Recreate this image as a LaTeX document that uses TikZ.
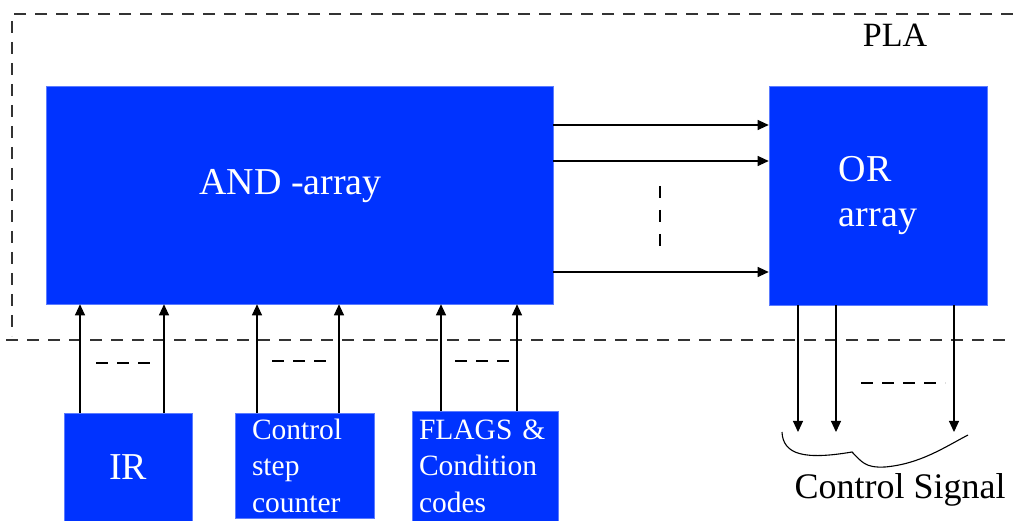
\documentclass[tikz,border=0pt]{standalone}
\usepackage{fontspec}
\setmainfont{Liberation Serif}
\usetikzlibrary{arrows.meta, positioning, calc}
\definecolor{boxblue}{HTML}{0033FF}
\definecolor{edgeblue}{HTML}{5C7CFF}
\definecolor{linegray}{HTML}{333333}

\begin{document}
\begin{tikzpicture}[
  x=1pt, y=-1pt,
  box/.style       = {rectangle, fill=boxblue, draw=edgeblue, line width=0.6pt,
                      text=white, inner sep=0pt},
  bigtext/.style   = {font=\fontsize{38}{45}\selectfont},
  smalltext/.style = {font=\fontsize{29.5}{36.5}\selectfont, align=left},
  arrow/.style     = {-{Triangle[length=11pt,width=10pt]}, line width=1.1pt},
  gap/.style       = {dash pattern=on 12pt off 9pt, line width=1.3pt},
  boundary/.style  = {dash pattern=on 12pt off 9pt, line width=1.6pt, color=linegray},
]
\useasboundingbox (0,0) rectangle (1013,521);

% PLA boundary
\draw[boundary] (1013,14) -| (12,336);
\draw[boundary] (6,340) -- (1013,340);
\node[font=\fontsize{34}{40}\selectfont] (pla) at (895,35) {PLA};

% Arrays
\node[box, minimum width=507pt, minimum height=218pt] (andarr) at (299.5,195) {};
\node[bigtext, text=white] (andlbl) at ([xshift=-9pt,yshift=9pt]andarr.center) {AND -array};
\node[box, bigtext, align=left, minimum width=218pt, minimum height=219pt] (orarr) at (878,195.5) {OR\\array};

% Inputs
\node[box, bigtext, minimum width=128pt, minimum height=108pt] (ir) at (128,467) {IR};
\node[box, smalltext, text width=105pt, inner xsep=17pt, minimum height=105pt] (ctrl) at (304.5,465.5)
     {Control\\step\\counter};
\node[box, smalltext, text width=132pt, inner xsep=7pt, minimum height=110pt] (flags) at (485,466)
     {FLAGS \&\\Condition\\codes};

% Arrows into the AND-array
\draw[arrow] ([xshift=-48pt]ir.north)      -- ([xshift=-48pt]ir.north |- andarr.south);
\draw[arrow] ([xshift=36pt]ir.north)       -- ([xshift=36pt]ir.north |- andarr.south);
\draw[arrow] ([xshift=-47.5pt]ctrl.north)  -- ([xshift=-47.5pt]ctrl.north |- andarr.south);
\draw[arrow] ([xshift=34.5pt]ctrl.north)   -- ([xshift=34.5pt]ctrl.north |- andarr.south);
\draw[arrow] ([xshift=-44pt]flags.north)   -- ([xshift=-44pt]flags.north |- andarr.south);
\draw[arrow] ([xshift=32pt]flags.north)    -- ([xshift=32pt]flags.north |- andarr.south);

\draw[gap] (96,363)  -- (156,363);
\draw[gap] (272,361) -- (333,361);
\draw[gap] (455,361) -- (515,361);

% Product lines
\draw[arrow] ([yshift=70pt]andarr.east)  -- ([yshift=70pt]andarr.east -| orarr.west);
\draw[arrow] ([yshift=34pt]andarr.east)  -- ([yshift=34pt]andarr.east -| orarr.west);
\draw[arrow] ([yshift=-77pt]andarr.east) -- ([yshift=-77pt]andarr.east -| orarr.west);
\draw[gap, dash pattern=on 12pt off 12pt] (660,186) -- (660,246);

% Outputs
\coordinate (sig) at (878,432);
\draw[arrow] ([xshift=-80pt]orarr.south) -- ([xshift=-80pt]orarr.south |- sig);
\draw[arrow] ([xshift=-42pt]orarr.south) -- ([xshift=-42pt]orarr.south |- sig);
\draw[arrow] ([xshift=76pt]orarr.south)  -- ([xshift=76pt]orarr.south |- sig);
\draw[gap] (861,383) -- (945,383);

% Brace
\draw[line width=1.1pt] (782,432) .. controls (783,455) and (805,460) .. (852,452)
  .. controls (862,462) and (865,468) .. (885,467)
  .. controls (920,464) and (945,447) .. (968,435);
\node[font=\fontsize{36}{42}\selectfont, anchor=base] (signal) at (900,498) {Control Signal};
\end{tikzpicture}
\end{document}
